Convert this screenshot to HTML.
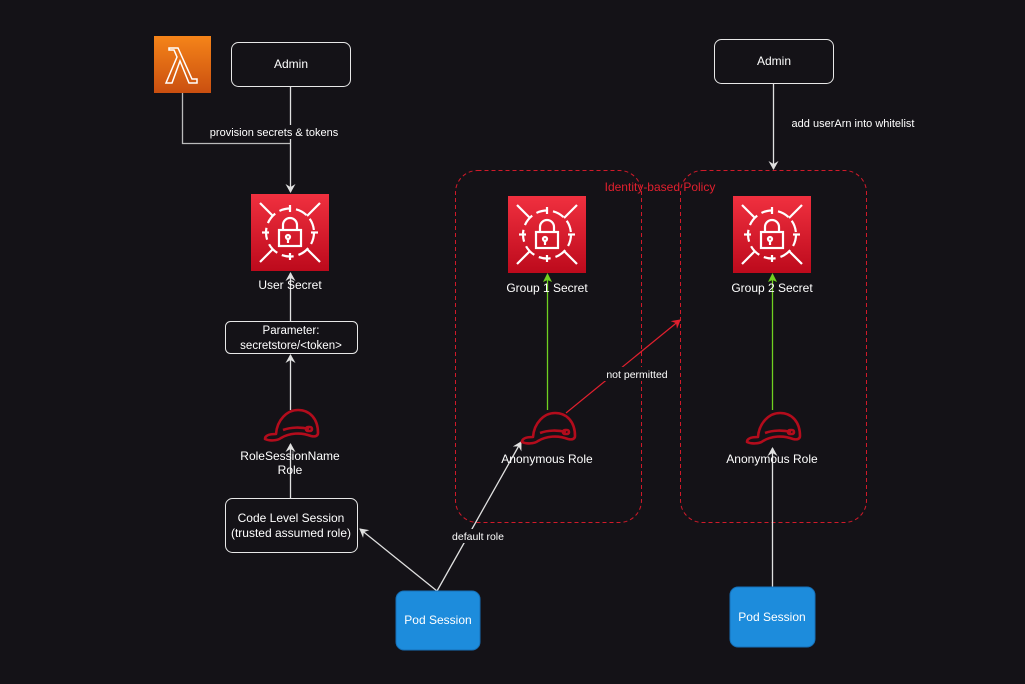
<!DOCTYPE html>
<html><head><meta charset="utf-8"><style>
html,body{margin:0;padding:0;background:#141217;}
svg{display:block;font-family:"Liberation Sans",Arial,sans-serif;}
</style></head><body>
<svg width="1025" height="684" viewBox="0 0 1025 684" xmlns="http://www.w3.org/2000/svg">
<defs>
<linearGradient id="rg" x1="0" y1="0" x2="0" y2="1"><stop offset="0" stop-color="#f0303f"/><stop offset="1" stop-color="#bd0a1c"/></linearGradient>
<linearGradient id="og" x1="0" y1="0" x2="0" y2="1"><stop offset="0" stop-color="#f58419"/><stop offset="1" stop-color="#ca4f10"/></linearGradient>
<g id="sec">
<rect x="0" y="0" width="78" height="77" fill="url(#rg)"/>
<g fill="none" stroke="#fff" stroke-width="2.2">
<circle cx="39" cy="38.5" r="24" stroke-dasharray="12 5"/>
<line x1="9" y1="9" x2="22" y2="22"/><line x1="69" y1="9" x2="56" y2="22"/>
<line x1="9" y1="68" x2="22" y2="55"/><line x1="69" y1="68" x2="56" y2="55"/>
<line x1="39" y1="11" x2="39" y2="18"/><line x1="39" y1="59" x2="39" y2="66"/>
<line x1="11" y1="38.5" x2="18" y2="38.5"/><line x1="60" y1="38.5" x2="67" y2="38.5"/>
<rect x="28" y="36" width="22" height="16"/>
<path d="M32 36v-5a7 7 0 0 1 14 0v5"/>
<circle cx="37" cy="43" r="2"/><line x1="37" y1="45" x2="37" y2="49"/>
</g></g>
<g id="hat" fill="none" stroke="#b30c1c" stroke-width="2.6" stroke-linejoin="round">
<path d="M-26 14C-26 10 -20 9 -15 9C-14 -5 -4 -15 7 -15C19 -15 27 -6 27 8C27 11 24 12 20 11C10 7 -2 8 -10 13C-14 16 -22 16 -26 14Z"/>
<path d="M-8 5C0 2 10 2 18 4"/>
<rect x="15" y="2" width="6" height="4" rx="2"/>
</g>
<marker id="aw" markerWidth="10" markerHeight="10" refX="8" refY="5" orient="auto" markerUnits="userSpaceOnUse"><path d="M0 0L9 5L0 10L3 5z" fill="#e0e0e0"/></marker>
<marker id="ar" markerWidth="10" markerHeight="10" refX="8" refY="5" orient="auto" markerUnits="userSpaceOnUse"><path d="M0 0L9 5L0 10L3 5z" fill="#e0202e"/></marker>
</defs>

<rect x="455.5" y="170.5" width="186" height="352" rx="22" fill="none" stroke="#d01a2a" stroke-dasharray="4 3"/>
<rect x="680.5" y="170.5" width="186" height="352" rx="22" fill="none" stroke="#d01a2a" stroke-dasharray="4 3"/>
<text x="660" y="191" fill="#e0202e" font-size="12" text-anchor="middle">Identity-based Policy</text>

<rect x="154" y="36" width="57" height="57" fill="url(#og)"/>
<path d="M169 48h9l14 31h5v4h-8l-9-22-8 22h-6l11-26-3-7h-5z" fill="none" stroke="#fff" stroke-width="1.5"/>

<rect x="231.5" y="42.5" width="119" height="44" rx="7" fill="none" stroke="#e8e8e8"/>
<text x="291" y="68" fill="#fff" font-size="12" text-anchor="middle">Admin</text>
<rect x="714.5" y="39.5" width="119" height="44" rx="7" fill="none" stroke="#e8e8e8"/>
<text x="774" y="65" fill="#fff" font-size="12" text-anchor="middle">Admin</text>

<polyline points="182.5,93 182.5,143.5 290.5,143.5" fill="none" stroke="#bbb" stroke-width="1.3"/>
<line x1="290.5" y1="86" x2="290.5" y2="192" stroke="#e0e0e0" stroke-width="1.3" marker-end="url(#aw)"/>
<rect x="208" y="125" width="134" height="14" fill="#141217"/>
<text x="274" y="136" fill="#fff" font-size="11" text-anchor="middle">provision secrets &amp; tokens</text>

<use href="#sec" x="251" y="194"/>
<line x1="290.5" y1="321" x2="290.5" y2="273" stroke="#e0e0e0" stroke-width="1.3" marker-end="url(#aw)"/>
<text x="290" y="289" fill="#fff" font-size="12" text-anchor="middle">User Secret</text>

<rect x="225.5" y="321.5" width="132" height="32" rx="5" fill="none" stroke="#e8e8e8"/>
<text x="291" y="334" fill="#fff" font-size="11.5" text-anchor="middle">Parameter:</text>
<text x="291" y="349" fill="#fff" font-size="11.5" text-anchor="middle">secretstore/&lt;token&gt;</text>

<line x1="290.5" y1="410" x2="290.5" y2="355" stroke="#e0e0e0" stroke-width="1.3" marker-end="url(#aw)"/>
<use href="#hat" x="291" y="425"/>
<line x1="290.5" y1="498" x2="290.5" y2="444" stroke="#e0e0e0" stroke-width="1.3" marker-end="url(#aw)"/>
<text x="290" y="460" fill="#fff" font-size="12" text-anchor="middle">RoleSessionName</text>
<text x="290" y="474" fill="#fff" font-size="12" text-anchor="middle">Role</text>

<rect x="225.5" y="498.5" width="132" height="54" rx="7" fill="none" stroke="#e8e8e8"/>
<text x="291" y="522" fill="#fff" font-size="12" text-anchor="middle">Code Level Session</text>
<text x="291" y="537" fill="#fff" font-size="12" text-anchor="middle">(trusted assumed role)</text>

<line x1="437" y1="591" x2="360" y2="529" stroke="#e0e0e0" stroke-width="1.3" marker-end="url(#aw)"/>
<line x1="437" y1="591" x2="521" y2="442" stroke="#e0e0e0" stroke-width="1.3" marker-end="url(#aw)"/>
<rect x="448" y="529" width="60" height="14" fill="#141217"/>
<text x="478" y="540" fill="#fff" font-size="10.5" text-anchor="middle">default role</text>
<rect x="396" y="591" width="84" height="59" rx="8" fill="#1d8cdc" stroke="#1670b8"/>
<text x="438" y="624" fill="#fff" font-size="12" text-anchor="middle">Pod Session</text>

<use href="#sec" x="508" y="196"/>
<line x1="547.5" y1="410" x2="547.5" y2="275" stroke="#6fd020" stroke-width="1.3"/>
<path d="M543 282l4.5-9 4.5 9-4.5-2z" fill="#6fd020"/>
<text x="547" y="292" fill="#fff" font-size="12" text-anchor="middle">Group 1 Secret</text>
<use href="#hat" x="548" y="428"/>
<text x="547" y="463" fill="#fff" font-size="12" text-anchor="middle">Anonymous Role</text>
<line x1="566" y1="413" x2="680" y2="320" stroke="#e0202e" stroke-width="1.2" marker-end="url(#ar)"/>
<rect x="604" y="367" width="66" height="14" fill="#141217"/>
<text x="637" y="378" fill="#fff" font-size="10.5" text-anchor="middle">not permitted</text>

<line x1="773.5" y1="83" x2="773.5" y2="169" stroke="#e0e0e0" stroke-width="1.3" marker-end="url(#aw)"/>
<text x="853" y="127" fill="#fff" font-size="11" text-anchor="middle">add userArn into whitelist</text>
<use href="#sec" x="733" y="196"/>
<line x1="772.5" y1="410" x2="772.5" y2="275" stroke="#6fd020" stroke-width="1.3"/>
<path d="M768 282l4.5-9 4.5 9-4.5-2z" fill="#6fd020"/>
<text x="772" y="292" fill="#fff" font-size="12" text-anchor="middle">Group 2 Secret</text>
<use href="#hat" x="773" y="428"/>
<line x1="772.5" y1="587" x2="772.5" y2="448" stroke="#e0e0e0" stroke-width="1.3" marker-end="url(#aw)"/>
<text x="772" y="463" fill="#fff" font-size="12" text-anchor="middle">Anonymous Role</text>
<rect x="730" y="587" width="85" height="60" rx="8" fill="#1d8cdc" stroke="#1670b8"/>
<text x="772" y="621" fill="#fff" font-size="12" text-anchor="middle">Pod Session</text>
</svg>
</body></html>
